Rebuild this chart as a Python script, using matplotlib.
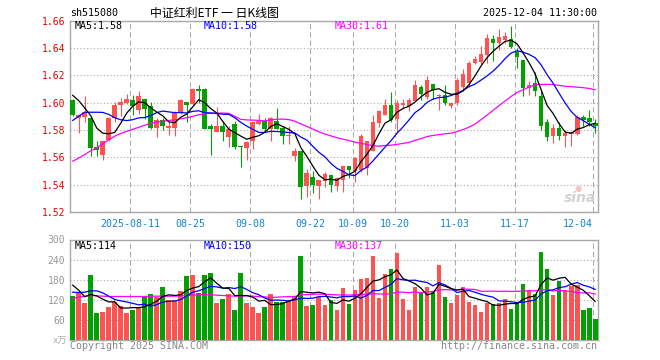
from __future__ import annotations

import matplotlib

matplotlib.use("Agg")
import matplotlib.pyplot as plt
import pandas as pd

DATES = [
    "07-28", "07-29", "07-30", "07-31", "08-01", "08-04", "08-05", "08-06", "08-07", "08-08",
    "08-11", "08-12", "08-13", "08-14", "08-15", "08-18", "08-19", "08-20", "08-21", "08-22",
    "08-25", "08-26", "08-27", "08-28", "08-29", "09-01", "09-02", "09-03", "09-04", "09-05",
    "09-08", "09-09", "09-10", "09-11", "09-12", "09-15", "09-16", "09-17", "09-18", "09-19",
    "09-22", "09-23", "09-24", "09-25", "09-26", "09-29", "09-30", "10-09", "10-10", "10-13",
    "10-14", "10-15", "10-16", "10-17", "10-20", "10-21", "10-22", "10-23", "10-24", "10-27",
    "10-28", "10-29", "10-30", "10-31", "11-03", "11-04", "11-05", "11-06", "11-07", "11-10",
    "11-11", "11-12", "11-13", "11-14", "11-17", "11-18", "11-19", "11-20", "11-21", "11-24",
    "11-25", "11-26", "11-27", "11-28", "12-01", "12-02", "12-03", "12-04",
]

OPEN = [
    1.602, 1.589, 1.5895, 1.5885, 1.5674, 1.5615, 1.5728, 1.589, 1.598, 1.5998,
    1.6017, 1.5949, 1.6025, 1.5973, 1.5816, 1.587, 1.5814, 1.5814, 1.5924, 1.6005,
    1.5993, 1.6098, 1.6098, 1.5826, 1.5789, 1.5833, 1.5748, 1.5841, 1.568, 1.5667,
    1.5723, 1.5846, 1.5865, 1.5809, 1.5865, 1.5814, 1.5755, 1.5613, 1.565, 1.5392,
    1.5458, 1.5392, 1.5424, 1.5473, 1.5392, 1.5436, 1.5539, 1.5498, 1.5508, 1.552,
    1.565, 1.5853, 1.5907, 1.598, 1.5882, 1.598, 1.5976, 1.6012, 1.6115, 1.6042,
    1.614, 1.6047, 1.6054, 1.5976, 1.600, 1.6115, 1.6145, 1.629, 1.6295, 1.635,
    1.6468, 1.6434, 1.646, 1.6465, 1.6372, 1.6316, 1.6108, 1.6145, 1.6047, 1.5858,
    1.5753, 1.5814, 1.5753, 1.5772, 1.5772, 1.5895, 1.5887, 1.5853,
]
HIGH = [
    1.603, 1.592, 1.6047, 1.589, 1.5723, 1.5723, 1.5895, 1.6005, 1.6034, 1.6061,
    1.6054, 1.6083, 1.6025, 1.6005, 1.5885, 1.589, 1.5858, 1.5939, 1.6024, 1.6005,
    1.6108, 1.613, 1.6105, 1.5846, 1.5966, 1.5865, 1.5833, 1.5865, 1.568, 1.5723,
    1.5858, 1.5914, 1.589, 1.5895, 1.5961, 1.5828, 1.5833, 1.5669, 1.565, 1.5515,
    1.5502, 1.5436, 1.549, 1.5473, 1.5454, 1.5539, 1.5539, 1.5601, 1.5772, 1.5723,
    1.5912, 1.5944, 1.6029, 1.6078, 1.6017, 1.6025, 1.6034, 1.6164, 1.6132, 1.6194,
    1.614, 1.6061, 1.6132, 1.6005, 1.6181, 1.6245, 1.6305, 1.634, 1.6416, 1.650,
    1.6495, 1.6539, 1.6516, 1.6561, 1.6397, 1.6316, 1.6157, 1.6225, 1.6086, 1.5882,
    1.5846, 1.5858, 1.5801, 1.5789, 1.5907, 1.5907, 1.5948, 1.5882,
]
LOW = [
    1.590, 1.5777, 1.5858, 1.5608, 1.5608, 1.5581, 1.5716, 1.5858, 1.590, 1.5993,
    1.5907, 1.5919, 1.5882, 1.581, 1.5748, 1.5797, 1.576, 1.5755, 1.5919, 1.5858,
    1.5985, 1.600, 1.5805, 1.5618, 1.5784, 1.5718, 1.5674, 1.5662, 1.5527, 1.5584,
    1.5662, 1.5838, 1.5784, 1.5723, 1.5804, 1.5699, 1.5699, 1.5576, 1.5294, 1.5312,
    1.5336, 1.5294, 1.5385, 1.5343, 1.5351, 1.5348, 1.5446, 1.5422, 1.549, 1.5473,
    1.565, 1.5821, 1.5907, 1.5858, 1.578, 1.5956, 1.5936, 1.6012, 1.6017, 1.6029,
    1.6029, 1.5944, 1.5985, 1.5961, 1.598, 1.6091, 1.6115, 1.628, 1.628, 1.6287,
    1.6306, 1.6384, 1.6434, 1.6397, 1.6257, 1.6049, 1.6054, 1.6049, 1.5797, 1.5718,
    1.5704, 1.5728, 1.5674, 1.5686, 1.5767, 1.5826, 1.5826, 1.5777,
]
CLOSE = [
    1.591, 1.591, 1.593, 1.5667, 1.5655, 1.5723, 1.5887, 1.598, 1.6005, 1.6025,
    1.5973, 1.6047, 1.5951, 1.5816, 1.587, 1.5833, 1.5826, 1.5924, 1.6017, 1.5985,
    1.6098, 1.6086, 1.5809, 1.5804, 1.5826, 1.5784, 1.5809, 1.5679, 1.5678, 1.5711,
    1.5858, 1.5865, 1.5809, 1.5887, 1.5809, 1.5755, 1.5765, 1.5645, 1.538, 1.5485,
    1.540, 1.5436, 1.5478, 1.540, 1.5449, 1.5539, 1.5508, 1.5593, 1.5753, 1.5723,
    1.5858, 1.5936, 1.598, 1.5875, 1.5998, 1.600, 1.6017, 1.6132, 1.6066, 1.6164,
    1.6091, 1.6059, 1.5998, 1.5998, 1.6164, 1.621, 1.629, 1.632, 1.6358, 1.647,
    1.644, 1.6483, 1.6488, 1.6409, 1.6331, 1.6108, 1.6127, 1.6083, 1.5833, 1.5748,
    1.5814, 1.5753, 1.5777, 1.5789, 1.5895, 1.5875, 1.5858, 1.5826,
]
# volume in 万
VOLUME = [
    131, 139, 110, 195, 79, 82, 98, 112, 101, 79,
    88, 97, 127, 137, 127, 159, 120, 118, 147, 192,
    195, 141, 195, 201, 110, 122, 137, 89, 201, 110,
    98, 79, 98, 137, 113, 113, 116, 127, 251, 101,
    104, 127, 104, 119, 88, 156, 107, 150, 183, 186,
    250, 125, 198, 211, 259, 122, 88, 158, 143, 158,
    146, 223, 128, 110, 134, 159, 113, 104, 82, 110,
    107, 110, 122, 91, 110, 168, 146, 137, 262, 211,
    134, 175, 150, 162, 165, 88, 95, 61,
]

# moving averages for the first bars (their windows start before 07-28)
MA5_HEAD = [1.6054, 1.6015, 1.5962, 1.5905]
MA10_HEAD = [1.587, 1.590, 1.593, 1.593, 1.593, 1.5929, 1.5914, 1.589, 1.5875]
MA30_HEAD = [
    1.5572, 1.5595, 1.562, 1.5648, 1.567, 1.570, 1.5728, 1.5755, 1.5775, 1.579,
    1.5805, 1.582, 1.5835, 1.585, 1.5857, 1.5865, 1.587, 1.5875, 1.5882, 1.589,
    1.590, 1.5912, 1.592, 1.5922, 1.5924, 1.5924, 1.5922, 1.590, 1.5878,
]
VOL_MA5_HEAD = [163, 148, 128, 135]
VOL_MA10_HEAD = [142, 141, 142, 146, 146, 140, 130, 120, 116]
VOL_MA30_HEAD = [
    124, 127, 130, 132, 131, 130, 129, 129, 129, 129,
    129, 129, 129, 130, 130, 130, 130, 130, 131, 132,
    133, 134, 134, 134, 133, 132, 131, 130, 130,
]

TICK_DATES = ["08-11", "08-25", "09-08", "09-22", "10-09", "10-20", "11-03", "11-17", "12-04"]
TICK_LABELS = ["2025-08-11", "08-25", "09-08", "09-22", "10-09", "10-20", "11-03", "11-17", "12-04"]

RED = "#ff5252"
GREEN = "#03a003"
GRID = "#aaaaaa"
DATE_BLUE = "#1485cf"
MONO = "DejaVu Sans Mono"
W, H = 660, 360


def moving_average(values: list[float], window: int, head: list[float]) -> pd.Series:
    ma = pd.Series(values, dtype=float).rolling(window).mean()
    ma.iloc[: len(head)] = head
    return ma


def px(fig, x: float, y: float):
    return fig.transFigure.inverted().transform(fig.dpi_scale_trans.transform((x / 100, (H - y) / 100)))


def style_axes(ax) -> None:
    for spine in ax.spines.values():
        spine.set_color("#a8a8a8")
        spine.set_linewidth(1.0)
    ax.tick_params(length=0, pad=3.5)
    ax.set_xlim(-0.05, 87.88)
    ax.yaxis.grid(True, linestyle=(0, (1, 2)), color=GRID, linewidth=0.8)
    ax.set_axisbelow(True)


def draw_candles(ax, df: pd.DataFrame) -> None:
    body_w = 0.8
    for i, row in df.iterrows():
        color = RED if row["close"] >= row["open"] else GREEN
        x = i + body_w / 2
        ax.vlines(x, row["low"], row["high"], color=color, linewidth=0.8, zorder=3)
        bottom = min(row["open"], row["close"])
        height = max(abs(row["close"] - row["open"]), 0.0004)
        ax.bar(i, height, bottom=bottom, width=body_w, align="edge", color=color, linewidth=0, zorder=3)


def main() -> None:
    df = pd.DataFrame({"date": DATES, "open": OPEN, "high": HIGH, "low": LOW, "close": CLOSE, "vol": VOLUME})
    df["up"] = df["close"] >= df["open"]
    xs = df.index + 0.4

    fig = plt.figure(figsize=(W / 100, H / 100), dpi=100)
    ax_p = fig.add_axes([70 / W, 1 - 212 / H, 528 / W, (212 - 20.7) / H])
    ax_v = fig.add_axes([70 / W, 1 - 339.5 / H, 528 / W, 100 / H])

    tick_idx = [DATES.index(d) for d in TICK_DATES]

    # price panel
    style_axes(ax_p)
    ax_p.set_ylim(1.52, 1.66)
    ax_p.set_yticks([1.52, 1.54, 1.56, 1.58, 1.60, 1.62, 1.64, 1.66])
    ax_p.set_yticklabels([f"{v:.2f}" for v in ax_p.get_yticks()], color="#ee0000",
                         family=MONO, fontsize=7)
    for t in tick_idx:
        ax_p.axvline(t, color=GRID, linewidth=0.75, linestyle=(0, (5, 3)), zorder=1)
    draw_candles(ax_p, df)
    ax_p.plot(xs, moving_average(CLOSE, 30, MA30_HEAD), color="#ff00ff", linewidth=0.9, zorder=4)
    ax_p.plot(xs, moving_average(CLOSE, 10, MA10_HEAD), color="#0000ff", linewidth=0.9, zorder=5)
    ax_p.plot(xs, moving_average(CLOSE, 5, MA5_HEAD), color="black", linewidth=0.9, zorder=6)
    ax_p.set_xticks(tick_idx)
    ax_p.set_xticklabels(TICK_LABELS, color=DATE_BLUE, family=MONO, fontsize=7.2)
    ax_p.tick_params(axis="x", pad=5)
    ax_p.get_xticklabels()[-1].set_ha("right")

    ma5 = moving_average(CLOSE, 5, MA5_HEAD).iloc[-1]
    ma10 = moving_average(CLOSE, 10, MA10_HEAD).iloc[-1]
    ma30 = moving_average(CLOSE, 30, MA30_HEAD).iloc[-1]
    for x, label, color in [(75, f"MA5:{ma5:.2f}", "black"), (204, f"MA10:{ma10:.2f}", "#0000ff"),
                            (335, f"MA30:{ma30:.2f}", "#ff00ff")]:
        fig.text(*px(fig, x, 26), label, color=color, family=MONO, fontsize=7.2, va="center")

    # volume panel
    style_axes(ax_v)
    ax_v.set_ylim(0, 300)
    ax_v.set_yticks([60, 120, 180, 240, 300])
    ax_v.set_yticklabels(["60", "120", "180", "240", "300"], color="#999999", family=MONO, fontsize=7)
    ax_v.set_xticks([])
    for t in tick_idx:
        ax_v.axvline(t, color=GRID, linewidth=0.75, linestyle=(0, (5, 3)), zorder=1)
    colors = [RED if up else GREEN for up in df["up"]]
    ax_v.bar(df.index, df["vol"], width=0.8, align="edge", color=colors, linewidth=0, zorder=3)
    ax_v.plot(xs, moving_average(VOLUME, 30, VOL_MA30_HEAD), color="#ff00ff", linewidth=0.9, zorder=4)
    ax_v.plot(xs, moving_average(VOLUME, 10, VOL_MA10_HEAD), color="#0000ff", linewidth=0.9, zorder=5)
    ax_v.plot(xs, moving_average(VOLUME, 5, VOL_MA5_HEAD), color="black", linewidth=0.9, zorder=6)

    v5 = moving_average(VOLUME, 5, VOL_MA5_HEAD).iloc[-1]
    v10 = moving_average(VOLUME, 10, VOL_MA10_HEAD).iloc[-1]
    v30 = moving_average(VOLUME, 30, VOL_MA30_HEAD).iloc[-1]
    for x, label, color in [(75, f"MA5:{v5:.0f}", "black"), (204, f"MA10:{v10:.0f}", "#0000ff"),
                            (335, f"MA30:{v30:.0f}", "#ff00ff")]:
        fig.text(*px(fig, x, 246), label, color=color, family=MONO, fontsize=7.2, va="center")

    # header, footer, watermark
    fig.text(*px(fig, 70, 13), "sh515080", family=MONO, fontsize=7.2, va="center")
    fig.text(*px(fig, 150, 13), "中证红利ETF 一 日K线图", family=["Noto Sans CJK SC", "DejaVu Sans"],
             fontsize=8.6, va="center")
    fig.text(*px(fig, 597, 13), "2025-12-04 11:30:00", family=MONO, fontsize=7.2, va="center", ha="right")
    fig.text(*px(fig, 67, 341), "x万", family=[MONO, "Noto Sans CJK SC"], fontsize=6.5,
             color="#aaaaaa", va="center", ha="right")
    fig.text(*px(fig, 70, 346), "Copyright 2025 SINA.COM", family=MONO, fontsize=7.2,
             color="#888888", va="center")
    fig.text(*px(fig, 597, 346), "http://finance.sina.com.cn", family=MONO, fontsize=7.2,
             color="#888888", va="center", ha="right")
    fig.text(*px(fig, 580, 198), "sina", fontsize=10, fontstyle="italic", fontweight="bold",
             color="#d2d2d2", va="center", ha="center")
    fig.text(*px(fig, 578, 188), "●", fontsize=6, color="#f6c4c4", va="center", ha="center")

    fig.savefig("out.png", dpi=100)
    plt.close(fig)


if __name__ == "__main__":
    main()
